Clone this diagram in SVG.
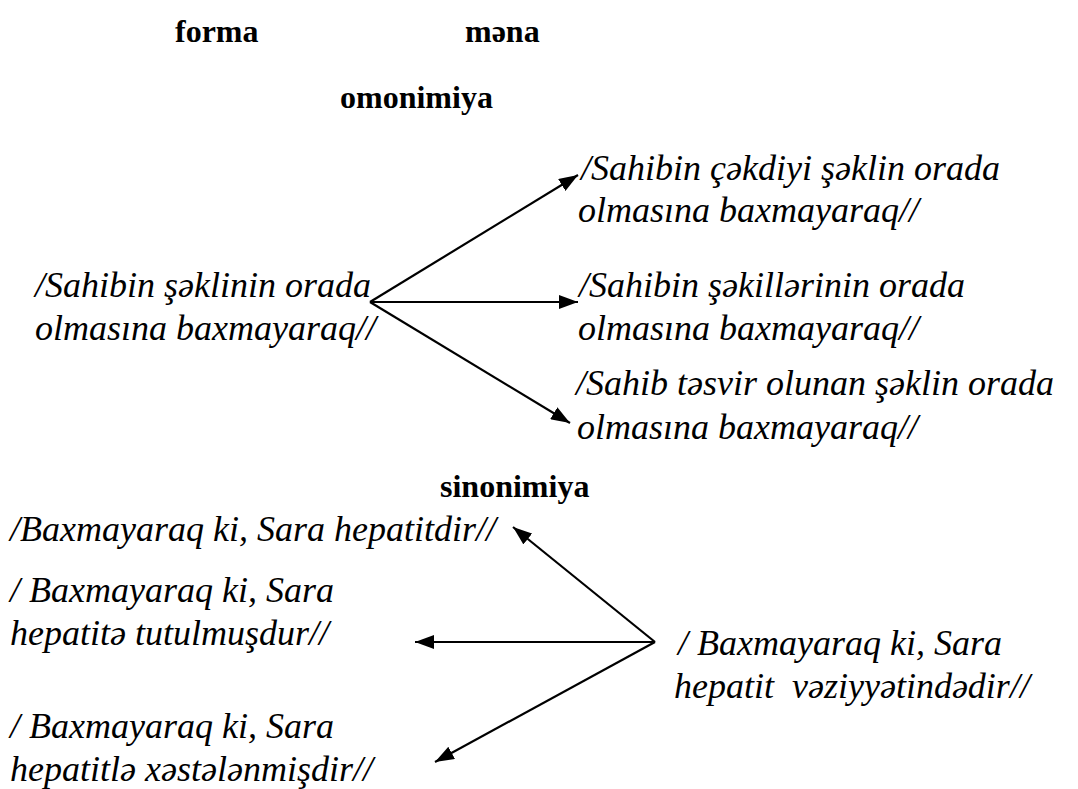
<svg xmlns="http://www.w3.org/2000/svg" width="1078" height="789" viewBox="0 0 1078 789">
<style>
text{font-family:'Liberation Serif','Times New Roman',serif;font-size:32px;fill:#000}
.h{font-weight:bold}
.i{font-style:italic;font-size:36px}
.c line{stroke:#000;stroke-width:2.2}
</style>
<defs>
<marker id="ah" viewBox="0 0 10 10" refX="10" refY="5" markerWidth="19" markerHeight="14" markerUnits="userSpaceOnUse" orient="auto" preserveAspectRatio="none">
<path d="M0,0 L10,5 L0,10 Z" fill="#000"/>
</marker>
</defs>
<rect width="1078" height="789" fill="#fff"/>
<g id="headers">
<text class="h" x="175" y="42">forma</text>
<text class="h" x="465" y="42">məna</text>
<text class="h" x="340" y="108">omonimiya</text>
<text class="h" x="440" y="497">sinonimiya</text>
</g>
<g id="src1">
<text class="i" x="35" y="297">/Sahibin şəklinin orada</text>
<text class="i" x="35" y="340">olmasına baxmayaraq//</text>
</g>
<g id="om1">
<text class="i" x="581" y="180">/Sahibin çəkdiyi şəklin orada</text>
<text class="i" x="578" y="222">olmasına baxmayaraq//</text>
</g>
<g id="om2">
<text class="i" x="579" y="297">/Sahibin şəkillərinin orada</text>
<text class="i" x="578" y="340">olmasına baxmayaraq//</text>
</g>
<g id="om3">
<text class="i" x="576" y="395">/Sahib təsvir olunan şəklin orada</text>
<text class="i" x="577" y="439">olmasına baxmayaraq//</text>
</g>
<g id="sy1">
<text class="i" x="10" y="541">/Baxmayaraq ki, Sara hepatitdir//</text>
</g>
<g id="sy2">
<text class="i" x="10" y="602">/ Baxmayaraq ki, Sara</text>
<text class="i" x="10" y="645">hepatitə tutulmuşdur//</text>
</g>
<g id="sy3">
<text class="i" x="10" y="738">/ Baxmayaraq ki, Sara</text>
<text class="i" x="10" y="781">hepatitlə xəstələnmişdir//</text>
</g>
<g id="src2">
<text class="i" x="678" y="655">/ Baxmayaraq ki, Sara</text>
<text class="i" x="674" y="698" xml:space="preserve">hepatit  vəziyyətindədir//</text>
</g>
<g class="c" id="connectors">
<line x1="370" y1="302" x2="578" y2="175" marker-end="url(#ah)"/>
<line x1="370" y1="302" x2="578" y2="302" marker-end="url(#ah)"/>
<line x1="370" y1="302" x2="570" y2="423" marker-end="url(#ah)"/>
<line x1="655" y1="642" x2="513" y2="527" marker-end="url(#ah)"/>
<line x1="655" y1="642" x2="415" y2="642" marker-end="url(#ah)"/>
<line x1="655" y1="642" x2="435" y2="762" marker-end="url(#ah)"/>
</g>
</svg>
